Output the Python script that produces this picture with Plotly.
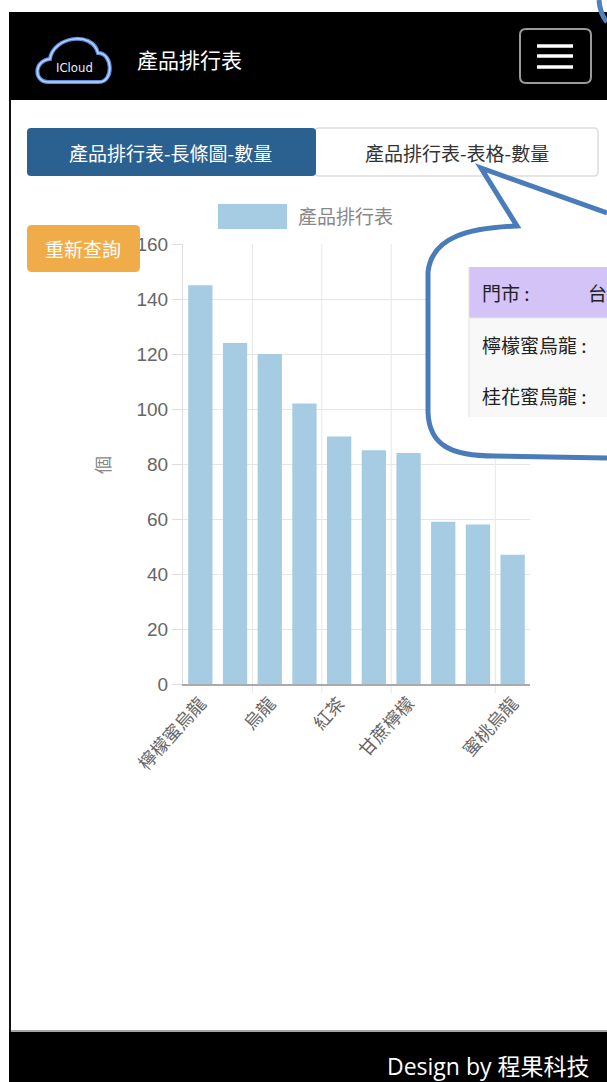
import plotly.graph_objects as go

# ---------------- data ----------------
categories = ['檸檬蜜烏龍', '桂花蜜烏龍', '烏龍', '綠茶', '紅茶', '奶茶', '甘蔗檸檬', '冬瓜茶', '四季春', '蜜桃烏龍']
quantities = [145, 124, 120, 102, 90, 85, 84, 59, 58, 47]
shown_tick_idx = [0, 2, 4, 6, 9]
y_ticks = [0, 20, 40, 60, 80, 100, 120, 140, 160]
series_name = '產品排行表'
y_title = '個'
page_title = '產品排行表'
tab_labels = ['產品排行表-長條圖-數量', '產品排行表-表格-數量']
button_label = '重新查詢'
table_rows = ['門市 :', '檸檬蜜烏龍 :', '桂花蜜烏龍 :']
table_cut = '台'
footer_text = 'Design by 程果科技'

W, H = 607, 1082
CJK = 'Noto Sans CJK TC'
LAT = 'Liberation Sans, Noto Sans CJK TC'
BAR = '#a5cce2'


def fx(x):
    return x / W


def fy(y):
    return 1 - y / H


def pt(x, y):
    return f'{fx(x):.5f},{fy(y):.5f}'


def build_path(cmds, close=False):
    s = ''
    for c in cmds:
        op = c[0]
        s += op + ' ' + ' '.join(pt(*p) for p in c[1:]) + ' '
    if close:
        s += 'Z'
    return s


def rrect(x0, y0, x1, y1, r, **kw):
    cmds = [('M', (x0 + r, y0)), ('L', (x1 - r, y0)), ('Q', (x1, y0), (x1, y0 + r)),
            ('L', (x1, y1 - r)), ('Q', (x1, y1), (x1 - r, y1)), ('L', (x0 + r, y1)),
            ('Q', (x0, y1), (x0, y1 - r)), ('L', (x0, y0 + r)), ('Q', (x0, y0), (x0 + r, y0))]
    d = dict(type='path', path=build_path(cmds, True), xref='paper', yref='paper', layer='above')
    d.update(kw)
    return d


def rect(x0, y0, x1, y1, **kw):
    d = dict(type='rect', x0=fx(x0), x1=fx(x1), y0=fy(y1), y1=fy(y0), xref='paper', yref='paper', layer='above')
    d.update(kw)
    return d


def line(x0, y0, x1, y1, color, width, layer='above'):
    return dict(type='line', x0=fx(x0), x1=fx(x1), y0=fy(y0), y1=fy(y1), xref='paper', yref='paper',
                line=dict(color=color, width=width), layer=layer)


def text(x, y, s, size, color, family=CJK, xanchor='center', angle=0):
    return dict(x=fx(x), y=fy(y), xref='paper', yref='paper', text=s, showarrow=False,
                font=dict(size=size, color=color, family=family), xanchor=xanchor, yanchor='middle',
                textangle=angle)


# ---------------- chart ----------------
fig = go.Figure()
fig.add_trace(go.Bar(x=categories, y=quantities, marker=dict(color=BAR, line=dict(width=0)),
                     width=0.7, name=series_name, showlegend=False))

PL, PR, PT, PB = 183, 530, 244, 684

shapes = []
annotations = []

# page frame
shapes.append(rect(9, 12, 607, 100, fillcolor='#000000', line=dict(width=0), layer='below'))
shapes.append(rect(9, 1032, 607, 1082, fillcolor='#000000', line=dict(width=0), layer='below'))
shapes.append(line(10, 100, 10, 1032, '#111111', 2, 'below'))
shapes.append(line(11, 1031, 607, 1031, '#888888', 1.5, 'below'))

# logo cloud
cloud = [('M', (48, 82)), ('C', (34, 82), (33, 61), (50, 59)), ('C', (53, 37), (92, 30), (98, 53)),
         ('C', (113, 53), (114, 82), (99, 82)), ('L', (48, 82))]
shapes.append(dict(type='path', path=build_path(cloud, True), xref='paper', yref='paper', layer='above',
                   line=dict(color='#5d8fe6', width=4)))
shapes.append(dict(type='path', path=build_path(cloud, True), xref='paper', yref='paper', layer='above',
                   line=dict(color='#bcd6ff', width=1.5)))
annotations.append(text(74, 67, 'ICloud', 13, '#e8eeff', family='DejaVu Sans Condensed, Liberation Sans Narrow, sans-serif'))
annotations.append(text(135, 59, page_title, 21, '#ffffff', xanchor='left'))

# hamburger
shapes.append(rrect(520, 29, 591, 83, 6, line=dict(color='#9a9a9a', width=2)))
for yy in (46, 56, 67):
    shapes.append(line(537, yy, 573, yy, '#ffffff', 3.5))

# top-right blue arc
shapes.append(dict(type='path', path=build_path([('M', (599, 0)), ('Q', (600, 14), (607, 22))]),
                   xref='paper', yref='paper', layer='above', line=dict(color='#4f81bd', width=5)))

# tabs
shapes.append(rrect(315, 128, 598, 176, 4, fillcolor='#ffffff', line=dict(color='#dddddd', width=1.5)))
shapes.append(rrect(27, 128, 316, 176, 4, fillcolor='#2a6190', line=dict(width=0)))
annotations.append(text(170, 152, tab_labels[0], 19, '#ffffff'))
annotations.append(text(457, 152, tab_labels[1], 19, '#333333'))

# legend
shapes.append(rect(218, 204, 287, 229, fillcolor=BAR, line=dict(width=0)))
annotations.append(text(296, 216, series_name, 19, '#888888', xanchor='left'))

# orange button
shapes.append(rrect(27, 225, 140, 272, 5, fillcolor='#f0ac48', line=dict(width=0)))
annotations.append(text(83, 248, button_label, 19, '#ffffff'))

# y title
annotations.append(text(102, 465, y_title, 18, '#888888', angle=-90))

# vertical gridlines at category boundaries of shown ticks
for i in shown_tick_idx[1:]:
    b = i - 0.5
    shapes.append(dict(type='line', xref='x', yref='paper', x0=b, x1=b, y0=fy(PB + 9), y1=fy(PT),
                       line=dict(color='#e6e6e6', width=1), layer='below'))

# callout bubble
bubble = [('M', (607, 213)), ('L', (481, 168)), ('L', (517, 226)),
          ('C', (470, 228), (432, 236), (428, 272)), ('L', (428, 412)),
          ('C', (429, 446), (452, 456), (495, 456)), ('L', (607, 458))]
shapes.append(dict(type='path', path=build_path(bubble), xref='paper', yref='paper', layer='above',
                   fillcolor='#ffffff', line=dict(color='#4a7cba', width=5)))
# table
shapes.append(rect(469, 318, 607, 417, fillcolor='#f8f8f8', line=dict(width=0)))
shapes.append(rect(469, 267, 607, 318, fillcolor='#d3c3f7', line=dict(width=0)))
shapes.append(line(469, 267, 469, 417, '#e3e3e3', 1))
shapes.append(line(469, 318, 607, 318, '#e6e6e6', 1))
annotations.append(text(480, 292, table_rows[0], 19, '#222222', xanchor='left'))
annotations.append(text(586, 292, table_cut, 19, '#222222', xanchor='left'))
annotations.append(text(480, 344, table_rows[1], 19, '#222222', xanchor='left'))
annotations.append(text(480, 395, table_rows[2], 19, '#222222', xanchor='left'))

# footer
annotations.append(text(592, 1066, footer_text, 23, '#ffffff', family='Open Sans, Noto Sans CJK TC', xanchor='right'))

fig.update_layout(
    width=W, height=H,
    margin=dict(l=0, r=0, t=0, b=0, autoexpand=False),
    paper_bgcolor='#ffffff', plot_bgcolor='rgba(0,0,0,0)',
    bargap=0.3,
    showlegend=False,
    xaxis=dict(domain=[fx(PL), fx(PR)], type='category', range=[-0.5, 9.5], automargin=False,
               tickmode='array', tickvals=[categories[i] for i in shown_tick_idx],
               ticktext=[categories[i] for i in shown_tick_idx],
               tickangle=-48, tickfont=dict(size=18, color='#666666', family=CJK),
               showgrid=False, showline=True, linecolor='#aaaaaa', linewidth=1.5, ticks=''),
    yaxis=dict(domain=[fy(PB), fy(PT)], range=[0, 160], tickmode='array', tickvals=y_ticks, automargin=False,
               tickfont=dict(size=19, color='#666666', family=LAT),
               showgrid=True, gridcolor='#e6e6e6', gridwidth=1,
               showline=True, linecolor='#dddddd', linewidth=1,
               ticks='outside', ticklen=10, tickcolor='#dddddd', zeroline=False),
    shapes=shapes,
    annotations=annotations,
)

fig.write_html('out.html', config={'displayModeBar': False},
               post_script="document.body.style.margin='0';document.body.style.padding='0';"
                           "document.documentElement.style.overflow='hidden';document.body.style.overflow='hidden';")
